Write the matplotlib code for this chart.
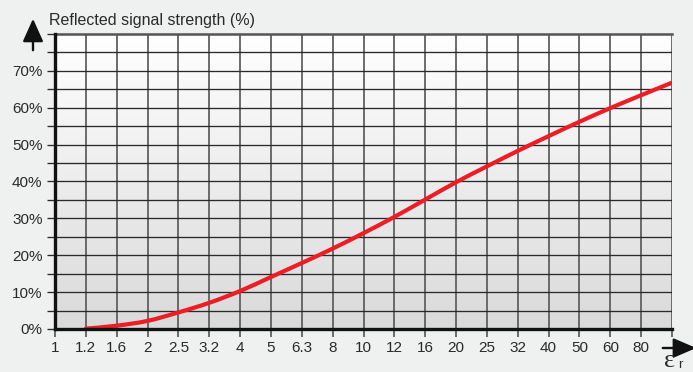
import numpy as np
import matplotlib
matplotlib.use("Agg")
import matplotlib.pyplot as plt
from matplotlib.colors import LinearSegmentedColormap
from matplotlib.path import Path
from matplotlib.patches import PathPatch, FancyArrowPatch

plt.rcParams["font.family"] = ["Liberation Sans", "DejaVu Sans"]

# Relative permittivity steps (evenly spaced on the axis)
er_labels = ["1", "1.2", "1.6", "2", "2.5", "3.2", "4", "5", "6.3", "8", "10",
             "12", "16", "20", "25", "32", "40", "50", "60", "80", ""]
# Reflected signal strength (%) at each step from 1.2 upward
curve_steps = ["1.2", "1.6", "2", "2.5", "3.2", "4", "5", "6.3", "8", "10",
               "12", "16", "20", "25", "32", "40", "50", "60", "80", ""]
reflected = [0.1, 0.9, 2.2, 4.5, 7.1, 10.3, 14.1, 17.9, 21.8, 26.0,
             30.4, 35.1, 39.8, 44.1, 48.3, 52.3, 56.2, 59.9, 63.4, 66.8]
y_ticks = [0, 10, 20, 30, 40, 50, 60, 70]

fig = plt.figure(figsize=(6.93, 3.72), dpi=100)
fig.patch.set_facecolor("#eff0f0")
ax = fig.add_axes([0.0794, 0.1156, 0.8903, 0.793])

n = len(er_labels)
xmax = n - 1
ax.set_xlim(0, xmax)
ax.set_ylim(0, 80)

# vertical gradient background for the plot area
cmap = LinearSegmentedColormap.from_list("bg", ["#dadada", "#ffffff"])
grad = np.linspace(0, 1, 256).reshape(-1, 1)
ax.imshow(grad, extent=[0, xmax, 0, 80], origin="lower", aspect="auto",
          cmap=cmap, zorder=0)

# grid
for i in range(1, n):
    ax.axvline(i, color="#606060", lw=1.3, zorder=1)
for v in range(5, 80, 5):
    ax.axhline(v, color="#2a2a2a", lw=0.95, zorder=1.5)

# curve: smooth Bezier path through the data points (Catmull-Rom handles)
xpos = np.array([er_labels.index(s) if s else xmax for s in curve_steps],
                dtype=float)
ypos = np.array(reflected, dtype=float)
pts = np.column_stack([xpos, ypos])
verts = [tuple(pts[0])]
codes = [Path.MOVETO]
for k in range(len(pts) - 1):
    p0 = pts[k - 1] if k > 0 else pts[k]
    p1, p2 = pts[k], pts[k + 1]
    p3 = pts[k + 2] if k + 2 < len(pts) else pts[k + 1]
    c1 = p1 + (p2 - p0) / 6.0
    c2 = p2 - (p3 - p1) / 6.0
    verts += [tuple(c1), tuple(c2), tuple(p2)]
    codes += [Path.CURVE4] * 3
ax.add_patch(PathPatch(Path(verts, codes), facecolor="none",
                       edgecolor="#ee1c25", lw=3.0, capstyle="round",
                       zorder=3))

# spines
ax.spines["right"].set_visible(False)
ax.spines["top"].set_color("#555555")
ax.spines["top"].set_linewidth(1.8)
for s in ["left", "bottom"]:
    ax.spines[s].set_color("#111111")
    ax.spines[s].set_linewidth(2.4)
    ax.spines[s].set_zorder(4)

# ticks
ax.set_xticks(range(n))
ax.set_xticklabels(er_labels, fontsize=11, color="#2a2a2a")
ax.set_yticks(range(0, 85, 5))
ax.set_yticklabels([f"{v}%" if v in y_ticks else "" for v in range(0, 85, 5)],
                   fontsize=11, color="#2a2a2a")
ax.tick_params(axis="x", direction="out", length=6, width=1.3,
               color="#606060", pad=3)
ax.tick_params(axis="y", direction="out", length=5.5, width=0.95,
               color="#2a2a2a", pad=3.5)

# axis titles with arrows
fig.text(49 / 693, 1 - 25 / 372, "Reflected signal strength (%)",
         fontsize=11.5, color="#2a2a2a", va="baseline", ha="left")
fig.add_artist(FancyArrowPatch(
    (33 / 693, 1 - 53 / 372), (33 / 693, 1 - 16 / 372),
    transform=fig.transFigure,
    arrowstyle="-|>,head_length=14,head_width=6.3",
    color="#111111", lw=1.7))
fig.add_artist(FancyArrowPatch(
    (660 / 693, 1 - 348 / 372), (699 / 693, 1 - 348 / 372),
    transform=fig.transFigure,
    arrowstyle="-|>,head_length=14,head_width=6.0",
    color="#111111", lw=1.7))
fig.text(664 / 693, 1 - 367 / 372, "ε", fontsize=19,
         family=["Liberation Serif", "DejaVu Serif"],
         color="#2a2a2a", va="baseline", ha="left")
fig.text(678 / 693, 1 - 368 / 372, "r", fontsize=9.5, color="#2a2a2a",
         va="baseline", ha="left")

fig.savefig("out.png", dpi=100, facecolor=fig.get_facecolor())
